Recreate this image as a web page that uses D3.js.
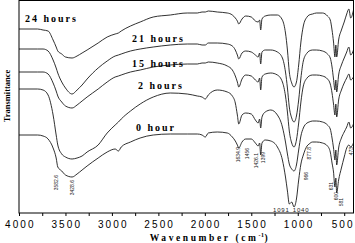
<!DOCTYPE html>
<html>
<head>
<meta charset="utf-8">
<script src="https://cdn.jsdelivr.net/npm/d3@7"></script>
<style>
  body { margin: 0; background: #fff; }
  svg { display: block; }
</style>
</head>
<body>
<svg id="canvas"></svg>
<script>
//--data: wavenumbers (cm-1) shared by every spectrum
const wavenumbers = [4000, 3800, 3741, 3687, 3633, 3600, 3582.6, 3540, 3500, 3428.6,
  3375, 3321, 3267, 3148, 3051, 2965, 2930, 2900, 2800, 2696,
  2555, 2372, 2189, 2081, 2030, 1995, 1963, 1866, 1758, 1704,
  1672, 1650, 1634.9, 1600, 1560, 1500, 1456, 1426.1, 1410, 1399,
  1385, 1350, 1290, 1219, 1165, 1132, 1111, 1091, 1065, 1040,
  1014, 990, 966, 940, 900, 877.8, 840, 800, 733, 680,
  650, 631, 615, 600, 590, 581, 560, 530, 500, 473,
  450, 430, 400];

//--transmittance (arbitrary units, spectra stacked)
const t24h = [184,184,183,182,173,166,162,159,156,155, 157,160,163,170,176,179,180,182,187,191,
  196,198,200,200,201,201,202,201,200,198, 195,192,189,194,197,196,192,191,193,183,
  194,197,198,198,193,180,163,141,130,126, 131,148,171,187,196,198,199,200,200,197,
  193,183,171,156,168,156,173,183,191,199, 204,195,203];
const t21h = [164,164,164,162,153,145,140,131,125,119, 123,128,134,145,152,157,158,159,162,164,
  166,168,169,169,168,168,170,170,169,167, 163,158,154,160,162,161,158,156,160,149,
  161,163,163,161,155,141,125,106,95,91, 97,113,135,152,160,162,163,163,162,159,
  155,146,134,123,133,121,138,148,155,161, 166,158,163];
const t15h = [141,141,141,139,130,122,117,111,107,105, 108,112,116,124,131,136,137,138,141,143,
  146,148,149,149,150,150,151,150,147,143, 137,131,126,134,138,137,133,131,135,123,
  136,139,140,138,131,117,101,82,70,66, 73,90,111,127,135,137,138,138,137,134,
  129,120,109,98,109,96,113,123,130,135, 139,133,136];
const t2h = [124,124,123,118,98,78,68,59,56,54, 55,57,61,68,80,88,91,94,102,109,
  116,120,119,117,116,114,118,123,121,117, 110,98,89,98,100,99,93,90,94,85,
  96,101,103,98,86,71,59,49,44,42, 48,63,77,85,90,91,92,92,91,88,
  84,75,65,53,63,48,65,75,81,86, 91,85,89];
const t0h = [78,78,77,74,65,55,46,42,38,36, 39,43,47,55,61,64,62,66,71,75,
  78,79,79,79,78,76,80,81,80,76, 72,68,65,71,74,74,70,67,70,58,
  70,73,72,66,53,36,22,9,11,6, 14,33,49,58,67,69,71,71,70,67,
  61,50,41,26,35,20,33,45,56,65, 68,66,70];

const seriesNames = ["24 hours", "21 hours", "15 hours", "2 hours", "0 hour"];
const seriesValues = [t24h, t21h, t15h, t2h, t0h];

//--tick labels and peak annotations (0 hour spectrum)
const xTicks = [4000, 3500, 3000, 2500, 2000, 1500, 1000, 500];
const peakLabels = ["3582.6", "3428.6", "1634.9", "1456", "1426.1", "1399", "966", "877.8", "631", "600", "581", "473"];
const peakWn = [3582.6, 3428.6, 1634.9, 1456, 1426.1, 1399, 966, 877.8, 631, 600, 581, 473];
const bottomLabels = ["1091", "1040"];
//--

//--layout
let width = 355;
let height = 243;
let margin = {left: 19, right: 1.5, top: 0.5, bottom: 30};
let plotBottom = height - margin.bottom;

// where each series name sits (layout only)
let nameBox = [[25, 22], [132, 42], [132, 67], [138, 89], [136, 131]];
// peak label nudges: [dx, top y]
let peakPos = [[-1, 175], [1, 180], [0, 147], [-8, 148], [-1, 153], [3, 152], [6, 172], [1, 147], [0, 182], [2, 192], [5, 198], [5, 147]];
//--

let canvas = d3.select("#canvas")
  .attr("width", width)
  .attr("height", height);

let xScale = d3.scaleLinear()
  .domain([4000, 400])
  .range([margin.left, width - margin.right]);

let yScale = d3.scaleLinear()
  .domain([0, 213])
  .range([plotBottom, 0]);

let line = d3.line()
  .x(d => xScale(d[0]))
  .y(d => yScale(d[1]))
  .curve(d3.curveMonotoneX);

//--spectra
canvas.selectAll("path.spec")
  .data(seriesValues)
  .enter()
  .append("path")
  .attr("class", "spec")
  .attr("d", vals => line(wavenumbers.map((w, i) => [w, vals[i]])))
  .attr("fill", "none")
  .attr("stroke", "#1a1a1a")
  .attr("stroke-width", 0.9);

//--frame
canvas.append("rect")
  .attr("x", margin.left)
  .attr("y", margin.top)
  .attr("width", width - margin.right - margin.left)
  .attr("height", plotBottom - margin.top)
  .attr("fill", "none")
  .attr("stroke", "#000")
  .attr("stroke-width", 1);

//--x axis
let xAxis = d3.axisBottom(xScale)
  .tickValues(d3.range(4000, 399, -250))
  .tickSize(3)
  .tickFormat(d => xTicks.includes(d) ? d : "");

let gx = canvas.append("g")
  .attr("transform", `translate(0,${plotBottom})`)
  .call(xAxis);
gx.select(".domain").remove();
gx.selectAll("line").attr("stroke", "#000");
gx.selectAll("text")
  .attr("y", 8)
  .attr("dx", d => d === 500 ? -1.5 : 0.8)
  .attr("fill", "#000")
  .style("font-family", "'Liberation Sans', Arial, sans-serif")
  .style("font-size", "10px")
  .style("letter-spacing", "2.1px");

//--axis titles
let xTitle = canvas.append("text")
  .attr("x", 210)
  .attr("y", 241)
  .attr("text-anchor", "middle")
  .style("font-family", "'Liberation Serif', 'Times New Roman', serif")
  .style("font-weight", "bold")
  .style("font-size", "9.5px")
  .style("letter-spacing", "2.6px");
xTitle.append("tspan").text("Wavenumber (cm");
xTitle.append("tspan").attr("dy", -4).style("font-size", "6px").style("letter-spacing", "0.5px").text("-1");
xTitle.append("tspan").attr("dy", 4).text(")");

canvas.append("text")
  .attr("transform", "translate(10,96) rotate(-90)")
  .attr("text-anchor", "middle")
  .style("font-family", "'Liberation Serif', 'Times New Roman', serif")
  .style("font-weight", "bold")
  .style("font-size", "8.5px")
  .text("Transmittance");

//--series names
canvas.selectAll("text.name")
  .data(seriesNames)
  .enter()
  .append("text")
  .attr("class", "name")
  .attr("x", (d, i) => nameBox[i][0])
  .attr("y", (d, i) => nameBox[i][1])
  .style("font-family", "'Liberation Serif', 'Times New Roman', serif")
  .style("font-weight", "bold")
  .style("font-size", "10px")
  .style("letter-spacing", "2px")
  .text(d => d);

//--peak labels (rotated)
canvas.selectAll("text.peak")
  .data(peakLabels)
  .enter()
  .append("text")
  .attr("class", "peak")
  .attr("transform", (d, i) => `translate(${xScale(peakWn[i]) + peakPos[i][0]},${peakPos[i][1]}) rotate(-90)`)
  .attr("text-anchor", "end")
  .attr("dominant-baseline", "middle")
  .attr("fill", "#222")
  .style("font-family", "'Liberation Sans', Arial, sans-serif")
  .style("font-size", "5px")
  .text(d => d);

canvas.selectAll("text.bottom")
  .data(bottomLabels)
  .enter()
  .append("text")
  .attr("class", "bottom")
  .attr("x", (d, i) => xScale(+d) + (i === 0 ? -8 : 7))
  .attr("y", 211.5)
  .attr("text-anchor", "middle")
  .attr("fill", "#222")
  .style("font-family", "'Liberation Sans', Arial, sans-serif")
  .style("font-size", "6px")
  .style("letter-spacing", "0.8px")
  .text(d => d);
</script>
</body>
</html>
